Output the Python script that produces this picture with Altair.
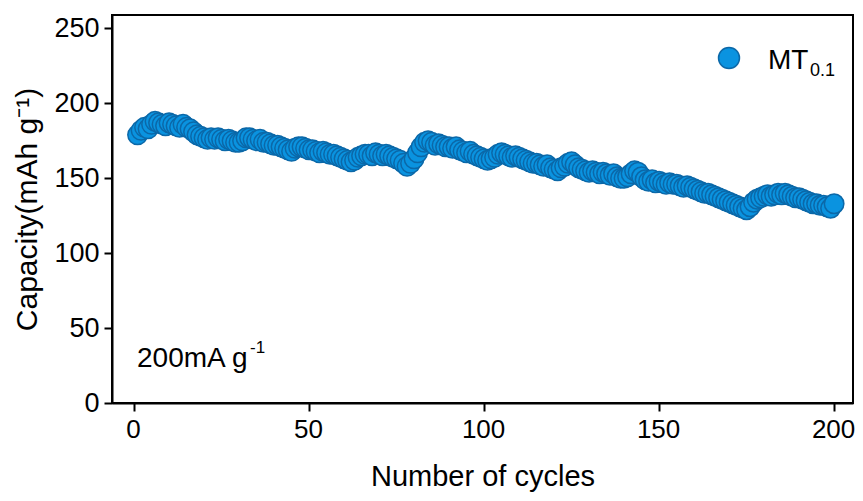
import altair as alt
import pandas as pd

cycles = list(range(1, 201))
capacity = [
    179, 182, 184, 183, 186, 188, 187, 186, 185, 187,
    186, 185, 184, 186, 184, 183, 181, 179, 178, 177,
    176, 177, 176, 177, 176, 175, 176, 175, 174, 174,
    175, 177, 177, 176, 175, 176, 174, 174, 173, 172,
    172, 171, 170, 169, 168, 170, 171, 171, 170, 169,
    169, 168, 167, 168, 167, 166, 166, 165, 164, 163,
    162, 161, 162, 164, 165, 166, 166, 165, 167, 166,
    165, 166, 165, 164, 163, 162, 160, 158, 160, 163,
    167, 171, 174, 175, 174, 172, 173, 172, 171, 171,
    170, 171, 169, 168, 167, 168, 166, 165, 164, 163,
    162, 163, 164, 166, 167, 166, 165, 164, 165, 164,
    163, 162, 161, 160, 160, 159, 158, 159, 157, 156,
    155, 157, 158, 160, 161, 159, 157, 156, 155, 154,
    155, 154, 153, 154, 153, 152, 153, 151, 150, 150,
    151, 153, 155, 154, 151, 149, 148, 149, 147, 148,
    147, 146, 147, 146, 146, 145, 144, 145, 144, 143,
    142, 141, 140, 140, 139, 138, 137, 136, 135, 134,
    133, 132, 131, 130, 129, 131, 134, 136, 137, 138,
    139, 138, 139, 140, 139, 140, 139, 138, 137, 137,
    136, 135, 134, 133, 133, 132, 132, 131, 130, 133,
]
x_ticks = [0, 50, 100, 150, 200]
y_ticks = [0, 50, 100, 150, 200, 250]
series_name = "MT"
series_sub = "0.1"
rate_text = "200mA g"
rate_sup = "-1"

FONT = "Liberation Sans"
FILL = "#0a93e0"
STROKE = "#0b68a8"

df = pd.DataFrame({"Cycle": cycles, "Capacity": capacity})

points = alt.Chart(df).mark_point(
    shape="circle", filled=True, size=380, fill=FILL, stroke=STROKE,
    strokeWidth=1.5, fillOpacity=1, strokeOpacity=1,
).encode(
    x=alt.X("Cycle:Q", scale=alt.Scale(domain=[-6.3, 205.4], nice=False, zero=False),
            axis=alt.Axis(values=x_ticks, title="Number of cycles", titlePadding=20,
                          titleFontSize=29, labelFontSize=26, labelOffset=-1)),
    y=alt.Y("Capacity:Q", scale=alt.Scale(domain=[0, 259], nice=False),
            axis=alt.Axis(values=y_ticks, title="Capacity(mAh g\u207b\u00b9)", titlePadding=11,
                          titleFontSize=30, labelFontSize=27)),
)

one = pd.DataFrame({"a": [0]})

leg_pt = alt.Chart(one).mark_point(
    shape="circle", filled=True, size=440, fill=FILL, stroke=STROKE,
    strokeWidth=1.5, fillOpacity=1,
).encode(x=alt.value(617), y=alt.value(43))

leg_txt = alt.Chart(one).mark_text(
    text=series_name, font=FONT, fontSize=28, align="left", baseline="alphabetic", color="black"
).encode(x=alt.value(656), y=alt.value(54))

leg_sub = alt.Chart(one).mark_text(
    text=series_sub, font=FONT, fontSize=18, align="left", baseline="alphabetic", color="black"
).encode(x=alt.value(698), y=alt.value(61))

rate = alt.Chart(one).mark_text(
    text=rate_text, font=FONT, fontSize=28, align="left", baseline="alphabetic", color="black"
).encode(x=alt.value(25), y=alt.value(352))

rate_s = alt.Chart(one).mark_text(
    text=rate_sup, font=FONT, fontSize=17, align="left", baseline="alphabetic", color="black"
).encode(x=alt.value(138), y=alt.value(338))

chart = alt.layer(points, leg_pt, leg_txt, leg_sub, rate, rate_s).properties(
    width=741, height=388,
    autosize=alt.AutoSizeParams(type="none"),
    padding={"left": 104, "top": 7, "right": 2, "bottom": 90},
    background="white",
).configure_view(
    stroke="black", strokeWidth=2
).configure_axis(
    grid=False, domainColor="black", domainWidth=2, tickColor="black", tickWidth=2,
    tickSize=8, labelColor="black", titleColor="black", labelFont=FONT, titleFont=FONT,
    titleFontWeight="normal", labelPadding=5,
)

chart.save("out.html", embed_options={"renderer": "svg", "actions": False})
